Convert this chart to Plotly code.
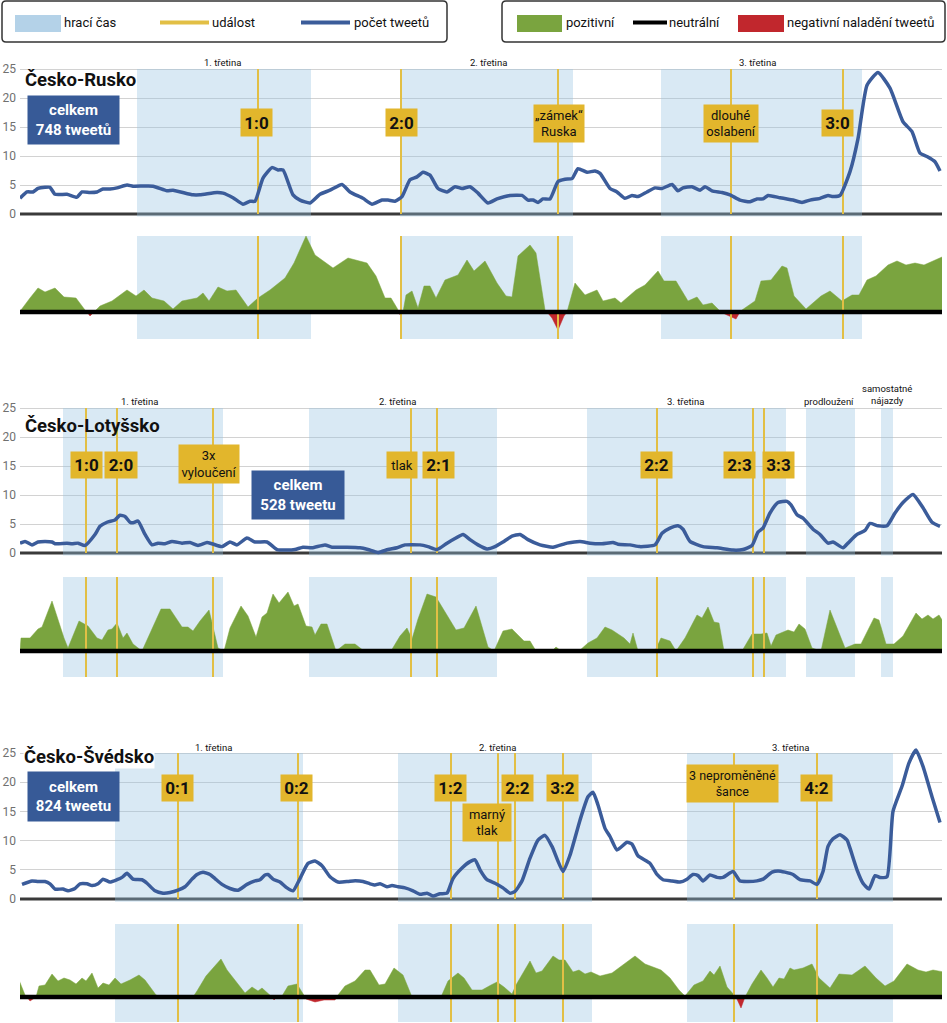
import plotly.graph_objects as go

# ================= DATA =================
# time is on a common match timeline (arbitrary units, same for all panels)

# ---- Česko-Rusko ----
rusko_hraci_cas = [(137, 311), (400, 573), (661, 862)]
rusko_udalosti = [258, 401, 558, 731, 843]
rusko_tweety = [
    (20, 2.7), (27, 3.8), (33, 3.8), (38, 4.4), (45, 4.6), (50, 4.6), (55, 3.4), (67, 3.4), (77, 2.9),
    (82, 3.8), (90, 3.7), (97, 3.8), (103, 4.3), (110, 4.3), (117, 4.5), (127, 5.0), (133, 4.8),
    (153, 4.8), (167, 4.0), (173, 4.1), (193, 3.3), (200, 3.3), (217, 3.7), (223, 3.6), (233, 2.8),
    (243, 1.7), (250, 2.2), (255, 2.2), (263, 6.2), (272, 8.0), (278, 7.6), (283, 7.6), (293, 3.3),
    (300, 2.4), (310, 1.9), (320, 3.4), (330, 4.1), (342, 5.1), (350, 3.8), (363, 2.7), (372, 1.7),
    (382, 2.4), (388, 2.4), (395, 2.2), (402, 3.0), (410, 5.9), (417, 6.4), (423, 7.2), (430, 6.7),
    (438, 4.4), (447, 3.8), (455, 4.7), (462, 4.4), (470, 4.7), (478, 3.6), (488, 1.9), (497, 2.6),
    (510, 3.2), (522, 3.2), (528, 2.4), (533, 2.4), (538, 2.0), (543, 2.6), (550, 2.6), (558, 5.6),
    (565, 6.0), (572, 6.1), (578, 7.8), (587, 7.2), (595, 7.4), (600, 7.0), (610, 4.4), (617, 3.8),
    (625, 2.7), (632, 3.2), (638, 3.0), (647, 3.8), (655, 4.5), (662, 4.4), (672, 5.1), (678, 4.0),
    (683, 4.5), (692, 4.7), (700, 4.1), (705, 4.7), (712, 4.0), (722, 3.7), (730, 3.3), (740, 2.4),
    (750, 2.1), (757, 2.6), (763, 2.6), (768, 3.2), (780, 2.8), (787, 2.6), (793, 2.4), (802, 2.0),
    (810, 2.4), (820, 2.7), (828, 3.2), (833, 3.0), (840, 3.2), (850, 7.3), (858, 13.0), (867, 22.2),
    (878, 24.4), (890, 21.7), (903, 15.9), (912, 14.2), (920, 10.5), (927, 9.9), (935, 9.0), (940, 7.4),
]
rusko_naladeni = [
    (20, 0), (21, 2), (30, 14), (38, 24), (45, 20), (55, 24), (64, 15), (76, 14), (85, 2), (87, 0), (90, -4),
    (94, 0), (100, 6), (112, 11), (127, 22), (136, 16), (144, 22), (152, 14), (164, 11), (173, 3),
    (182, 11), (197, 14), (203, 19), (209, 11), (218, 25), (227, 21), (236, 22), (248, 5), (258, 14),
    (270, 22), (285, 34), (294, 49), (306, 76), (315, 57), (333, 44), (348, 54), (367, 49), (376, 36),
    (385, 14), (391, 14), (397, 4), (399, 0), (400, -3), (403, 0), (406, 17), (412, 21), (418, 4),
    (424, 26), (430, 26), (436, 14), (445, 32), (458, 37), (467, 52), (474, 41), (485, 51), (497, 29),
    (506, 16), (512, 15), (518, 56), (530, 67), (536, 59), (545, 2), (547, 0), (552, -6), (558, -18),
    (564, -4), (567, 0), (575, 29), (585, 17), (597, 22), (603, 11), (615, 14), (621, 9), (636, 22),
    (645, 27), (658, 41), (664, 31), (676, 31), (688, 11), (697, 15), (703, 7), (712, 9), (721, 0),
    (727, -3), (736, -7), (740, 0), (742, 2), (755, 11), (761, 31), (771, 32), (782, 46), (787, 44),
    (794, 16), (806, 3), (821, 16), (830, 21), (842, 11), (852, 17), (859, 17), (867, 32), (876, 36),
    (888, 47), (897, 51), (906, 47), (915, 49), (924, 47), (933, 51), (942, 55),
]

# ---- Česko-Lotyšsko ----
lotyssko_hraci_cas = [(63, 223), (309, 497), (587, 786), (806, 855), (881, 893)]
lotyssko_udalosti = [86, 117, 213, 411, 437, 657, 753, 764]
lotyssko_tweety = [
    (20, 1.7), (25, 2.0), (32, 1.4), (38, 1.9), (45, 2.0), (52, 1.9), (55, 1.6), (67, 1.7), (72, 1.6),
    (78, 1.7), (85, 1.3), (95, 3.2), (100, 4.6), (107, 5.3), (115, 5.7), (120, 6.5), (125, 6.3),
    (130, 5.3), (133, 5.2), (138, 5.5), (145, 3.2), (152, 1.4), (158, 1.7), (165, 1.6), (172, 2.0),
    (182, 1.7), (190, 1.8), (198, 1.3), (207, 1.8), (212, 1.6), (222, 1.1), (230, 1.9), (237, 1.4),
    (247, 2.6), (255, 1.9), (267, 1.9), (277, 0.6), (287, 0.5), (295, 0.6), (303, 1.0), (312, 0.9),
    (325, 1.4), (332, 1.0), (347, 1.0), (360, 0.9), (368, 0.6), (378, 0.1), (388, 0.6), (397, 0.9),
    (405, 1.4), (420, 1.4), (428, 1.1), (437, 0.6), (447, 1.7), (455, 2.5), (463, 3.2), (470, 2.3),
    (478, 1.4), (487, 0.7), (495, 1.1), (503, 1.9), (512, 2.9), (520, 3.2), (528, 2.3), (540, 1.4),
    (553, 1.0), (567, 1.7), (580, 2.0), (590, 1.7), (602, 1.6), (613, 1.8), (618, 1.5), (630, 1.4),
    (640, 1.1), (655, 1.4), (662, 3.4), (670, 4.3), (678, 4.7), (683, 4.1), (690, 2.0), (703, 1.1),
    (717, 0.9), (733, 0.5), (743, 0.6), (752, 1.3), (758, 3.6), (763, 4.3), (770, 6.9), (778, 8.7),
    (787, 8.9), (791, 8.3), (797, 6.6), (803, 6.0), (813, 4.1), (820, 3.2), (828, 1.7), (833, 1.9),
    (843, 0.9), (848, 1.7), (857, 3.2), (865, 3.9), (870, 5.1), (878, 4.7), (887, 4.7), (895, 6.9),
    (903, 8.7), (913, 10.1), (923, 7.8), (932, 5.3), (940, 4.6),
]
lotyssko_naladeni = [
    (20, 0), (21, 13), (30, 13), (38, 22), (42, 24), (52, 50), (64, 13), (68, 3), (79, 30), (88, 25),
    (97, 13), (102, 11), (108, 21), (112, 22), (117, 28), (123, 13), (127, 18), (133, 7), (142, 0),
    (152, 22), (161, 42), (170, 42), (182, 24), (188, 24), (193, 20), (200, 30), (209, 41), (218, 3),
    (224, 0), (230, 23), (241, 45), (248, 35), (256, 14), (262, 34), (267, 38), (273, 57), (279, 48),
    (288, 59), (294, 45), (298, 47), (306, 25), (312, 24), (315, 16), (321, 27), (327, 27), (336, 0),
    (345, 7), (355, 7), (364, 0), (391, 0), (400, 15), (407, 23), (412, 12), (418, 32), (427, 57),
    (436, 54), (448, 35), (456, 21), (464, 23), (476, 45), (488, 4), (494, 0), (503, 20), (512, 22),
    (524, 10), (530, 10), (536, 0), (552, 0), (556, 4), (561, 0), (579, 0), (588, 8), (597, 13),
    (605, 24), (612, 21), (624, 13), (630, 7), (633, 18), (638, 0), (655, 0), (661, 13), (670, 10),
    (676, 0), (685, 13), (697, 36), (702, 33), (708, 44), (714, 29), (719, 28), (724, 0), (742, 0),
    (752, 17), (761, 17), (767, 18), (771, 5), (776, 16), (788, 21), (794, 19), (799, 27), (805, 22),
    (812, 3), (821, 0), (830, 41), (845, 3), (855, 7), (861, 7), (874, 33), (879, 31), (886, 7),
    (894, 7), (903, 15), (916, 38), (922, 32), (928, 36), (933, 32), (939, 36), (944, 28),
]

# ---- Česko-Švédsko ----
svedsko_hraci_cas = [(115, 303), (398, 592), (687, 893)]
svedsko_udalosti = [178, 298, 451, 498, 515, 563, 734, 817]
svedsko_tweety = [
    (22, 2.5), (32, 3.1), (38, 3.0), (45, 3.0), (50, 2.6), (55, 1.7), (63, 1.7), (68, 1.4), (75, 1.8),
    (80, 2.6), (87, 2.6), (92, 2.3), (98, 2.6), (103, 3.4), (110, 2.9), (117, 3.3), (122, 3.7),
    (127, 4.4), (133, 3.4), (142, 3.3), (147, 2.7), (155, 1.4), (163, 1.0), (170, 1.1), (178, 1.5),
    (185, 2.1), (192, 3.4), (197, 4.2), (203, 4.6), (210, 4.2), (215, 3.5), (222, 2.5), (230, 1.8),
    (238, 1.5), (247, 2.5), (255, 3.1), (260, 3.3), (265, 4.1), (268, 4.2), (273, 3.4), (280, 2.9),
    (287, 1.9), (293, 1.4), (300, 3.5), (308, 6.1), (315, 6.5), (322, 5.7), (330, 3.8), (338, 2.9),
    (348, 3.0), (353, 3.1), (363, 3.0), (370, 2.6), (375, 2.4), (380, 2.6), (387, 2.1), (392, 2.3),
    (398, 2.1), (405, 1.9), (413, 1.4), (420, 0.8), (427, 1.0), (433, 0.5), (440, 0.9), (447, 1.0),
    (453, 3.5), (462, 5.3), (470, 6.4), (475, 6.7), (480, 5.0), (487, 3.3), (495, 2.7), (503, 1.9),
    (510, 1.0), (515, 1.3), (522, 3.1), (530, 7.0), (538, 10.1), (545, 10.9), (552, 9.0), (563, 4.7),
    (570, 7.5), (580, 13.5), (588, 17.5), (593, 18.3), (598, 16.1), (605, 12.1), (610, 10.7),
    (617, 8.4), (627, 9.7), (632, 9.4), (638, 7.4), (650, 6.1), (657, 4.2), (663, 3.3), (672, 3.1),
    (680, 2.9), (687, 3.4), (693, 4.2), (698, 4.0), (703, 3.1), (710, 4.1), (717, 3.7), (723, 3.7),
    (733, 4.7), (740, 3.1), (747, 3.0), (757, 3.1), (763, 3.4), (772, 4.6), (778, 4.8), (785, 4.6),
    (793, 4.2), (800, 3.3), (810, 3.1), (817, 2.5), (823, 4.7), (828, 9.0), (833, 10.3), (840, 11.0),
    (847, 10.1), (850, 8.7), (857, 5.0), (863, 2.7), (869, 1.7), (875, 4.0), (880, 3.7), (887, 3.8),
    (893, 15.0), (902, 19.3), (909, 23.3), (916, 25.5), (923, 22.7), (932, 17.5), (940, 13.1),
]
svedsko_naladeni = [
    (19, 17), (25, 2), (27, 0), (30, -4), (36, 0), (39, 11), (45, 12), (52, 23), (58, 16), (64, 19),
    (70, 17), (76, 13), (82, 19), (86, 16), (92, 24), (98, 9), (103, 14), (109, 12), (115, 19),
    (121, 13), (130, 17), (139, 22), (145, 17), (156, 2), (161, 0), (193, 0), (197, 6), (206, 21),
    (215, 31), (221, 38), (227, 27), (239, 11), (245, 4), (252, 10), (258, 6), (262, 9), (270, 1),
    (272, 0), (274, -3), (277, 0), (282, 1), (288, 11), (297, 13), (303, 4), (305, 0), (306, -2),
    (315, -5), (324, -3), (335, -3), (337, 0), (338, 2), (345, 11), (355, 16), (365, 27), (370, 27),
    (379, 12), (385, 13), (394, 29), (403, 22), (412, 0), (441, 0), (448, 16), (458, 24), (464, 19),
    (472, 7), (482, 7), (491, 12), (497, 15), (504, 10), (512, 3), (516, 12), (522, 22), (530, 36),
    (536, 24), (542, 26), (553, 41), (559, 37), (565, 37), (573, 25), (579, 27), (585, 23), (591, 25),
    (600, 21), (612, 24), (624, 33), (635, 41), (645, 33), (661, 27), (670, 19), (679, 7), (685, 1),
    (694, 12), (703, 16), (710, 26), (714, 22), (720, 31), (727, 10), (736, 0), (741, -11), (745, 0),
    (752, 13), (761, 27), (767, 19), (773, 10), (779, 19), (784, 18), (790, 29), (794, 27), (803, 29),
    (812, 33), (819, 19), (830, 9), (839, 23), (852, 22), (865, 31), (876, 19), (885, 11), (894, 16),
    (907, 33), (918, 27), (926, 25), (933, 27), (944, 25),
]

# labels
y_ticks = [0, 5, 10, 15, 20, 25]
legend_labels = ["hrací čas", "událost", "počet tweetů", "pozitivní", "neutrální", "negativní naladění tweetů"]

# ================= STYLE / LAYOUT =================
W, H = 947, 1023
ML, MR = 20, 5
PW = W - ML - MR
FONT = "Roboto, Liberation Sans, Arial, sans-serif"
C_SHADE = "rgba(150,195,225,0.36)"
C_SWATCH = "#b4d2e8"
C_GOLD_LINE = "#e2bf45"
C_GOLD_BOX = "#e2b62c"
C_BLUE = "#3b5c9a"
C_BOX_BLUE = "#375a97"
C_GREEN = "#7aa43f"
C_RED = "#c1272d"
C_GRID = "#d2d2d2"


def py(p):  # pixel row -> paper y
    return 1 - p / H


def px(p):  # pixel column -> paper x
    return (p - ML) / PW


def dom(top, bottom):
    return [py(bottom), py(top)]


X_RANGE = [20, 942]

panels = [
    dict(tw=rusko_tweety, se=rusko_naladeni, hc=rusko_hraci_cas, ev=rusko_udalosti,
         zero=214, k=5.8, srange=[-27, 76], sdom=(236, 339)),
    dict(tw=lotyssko_tweety, se=lotyssko_naladeni, hc=lotyssko_hraci_cas, ev=lotyssko_udalosti,
         zero=553, k=5.8, srange=[-26, 74], sdom=(577, 677)),
    dict(tw=svedsko_tweety, se=svedsko_naladeni, hc=svedsko_hraci_cas, ev=svedsko_udalosti,
         zero=899, k=5.84, srange=[-25, 73], sdom=(924, 1022)),
]

fig = go.Figure()
layout_axes = {}
TOP_RANGE = [-1, 26]

for i, p in enumerate(panels):
    ya_top = f"y{2 * i + 1}" if i > 0 else "y"
    ya_sen = f"y{2 * i + 2}"
    top_name = "yaxis" if i == 0 else f"yaxis{2 * i + 1}"
    sen_name = f"yaxis{2 * i + 2}"
    t_top = p["zero"] - TOP_RANGE[1] * p["k"]
    t_bot = p["zero"] - TOP_RANGE[0] * p["k"]
    layout_axes[top_name] = dict(
        domain=dom(t_top, t_bot), range=TOP_RANGE, anchor="x", tickvals=y_ticks,
        ticktext=[str(v) for v in y_ticks], showgrid=True, gridcolor=C_GRID, gridwidth=1,
        zeroline=False, showline=False, ticks="", ticklabelstandoff=3,
        tickfont=dict(family=FONT, size=12, color="#707070"),
        automargin=False, fixedrange=True,
    )
    layout_axes[sen_name] = dict(domain=dom(*p["sdom"]), range=p["srange"], anchor="x",
                                 visible=False, fixedrange=True)

    # --- top panel: baseline ---
    fig.add_trace(go.Scatter(x=X_RANGE, y=[0, 0], mode="lines", line=dict(color="#3a3a3a", width=3),
                             yaxis=ya_top, hoverinfo="skip", showlegend=False))
    sx, sy = [], []
    for a, b in p["hc"]:
        sx += [a, a, b, b, a, None]
        sy += [-0.45, 25, 25, -0.45, -0.45, None]
    fig.add_trace(go.Scatter(x=sx, y=sy, mode="lines", fill="toself", fillcolor=C_SHADE,
                             line=dict(width=0), yaxis=ya_top, hoverinfo="skip", showlegend=False))
    ex, ey = [], []
    for e in p["ev"]:
        ex += [e, e, None]
        ey += [0, 25, None]
    fig.add_trace(go.Scatter(x=ex, y=ey, mode="lines", line=dict(color=C_GOLD_LINE, width=2),
                             yaxis=ya_top, hoverinfo="skip", showlegend=False))
    fig.add_trace(go.Scatter(x=[a for a, _ in p["tw"]], y=[b for _, b in p["tw"]], mode="lines",
                             line=dict(color=C_BLUE, width=3.5, shape="spline", smoothing=0.5),
                             yaxis=ya_top, hoverinfo="skip", showlegend=False))

    # --- sentiment panel ---
    lo, hi = p["srange"]
    sx, sy = [], []
    for a, b in p["hc"]:
        sx += [a, a, b, b, a, None]
        sy += [lo, hi, hi, lo, lo, None]
    fig.add_trace(go.Scatter(x=sx, y=sy, mode="lines", fill="toself", fillcolor=C_SHADE,
                             line=dict(width=0), yaxis=ya_sen, hoverinfo="skip", showlegend=False))
    st = [a for a, _ in p["se"]]
    sv = [b for _, b in p["se"]]
    fig.add_trace(go.Scatter(x=st, y=[max(v, 0) for v in sv], mode="lines", fill="tozeroy",
                             fillcolor=C_GREEN, line=dict(width=0.5, color=C_GREEN),
                             yaxis=ya_sen, hoverinfo="skip", showlegend=False))
    fig.add_trace(go.Scatter(x=st, y=[min(v, 0) for v in sv], mode="lines", fill="tozeroy",
                             fillcolor=C_RED, line=dict(width=0.5, color=C_RED),
                             yaxis=ya_sen, hoverinfo="skip", showlegend=False))
    ex, ey = [], []
    for e in p["ev"]:
        ex += [e, e, None]
        ey += [lo, hi, None]
    fig.add_trace(go.Scatter(x=ex, y=ey, mode="lines", line=dict(color=C_GOLD_LINE, width=2),
                             yaxis=ya_sen, hoverinfo="skip", showlegend=False))
    fig.add_trace(go.Scatter(x=X_RANGE, y=[0, 0], mode="lines", line=dict(color="#000000", width=4.5),
                             yaxis=ya_sen, hoverinfo="skip", showlegend=False))

annotations = []
shapes = []


def box(xc, yc, text, w, h, bg=C_GOLD_BOX, color="#111111", size=17, bold=True):
    t = f"<b>{text}</b>" if bold else text
    annotations.append(dict(x=xc, y=py(yc), xref="x", yref="paper", text=t, showarrow=False,
                            xanchor="center", yanchor="middle", width=w, height=h, bgcolor=bg,
                            borderpad=0, align="center", valign="middle",
                            font=dict(family=FONT, size=size, color=color)))


def label(x, yc, text, size=9.5, color="#111111", xanchor="center", bold=False, bg=None):
    t = f"<b>{text}</b>" if bold else text
    d = dict(x=x, y=py(yc), xref="x", yref="paper", text=t, showarrow=False, xanchor=xanchor,
             yanchor="middle", font=dict(family=FONT, size=size, color=color), align="center")
    if bg:
        d["bgcolor"] = bg
        d["borderpad"] = 0
    annotations.append(d)


SMALL = 13

# --- panel 1 ---
label(23, 80, "Česko-Rusko", size=18.5, xanchor="left", bold=True)
box(73.5, 120, "celkem<br>748 tweetů", 91, 48, bg=C_BOX_BLUE, color="white", size=15)
for t, x in [("1. třetina", 222), ("2. třetina", 488), ("3. třetina", 757)]:
    label(x, 63, t)
box(256.5, 122, "1:0", 31, 27)
box(401.5, 122, "2:0", 31, 27)
box(558.5, 123.5, "„zámek“<br>Ruska", 50, 37, size=SMALL, bold=False)
box(731, 123.5, "dlouhé<br>oslabení", 54, 37, size=SMALL, bold=False)
box(837.5, 122.5, "3:0", 31, 26)

# --- panel 2 ---
label(23, 426, "Česko-Lotyšsko", size=18.5, xanchor="left", bold=True)
for t, x in [("1. třetina", 139), ("2. třetina", 397), ("3. třetina", 685), ("prodloužení", 829)]:
    label(x, 401, t)
label(887, 394, "samostatné<br>nájazdy", size=9.5)
box(86.5, 464.5, "1:0", 31, 26)
box(121, 464.5, "2:0", 32, 26)
box(209, 464, "3x<br>vyloučení", 60, 38, size=SMALL, bold=False)
box(298, 495, "celkem<br>528 tweetu", 92, 48, bg=C_BOX_BLUE, color="white", size=15)
box(402, 464.5, "tlak", 30, 26, size=SMALL, bold=False)
box(438.5, 464.5, "2:1", 31, 26)
box(656.5, 464.5, "2:2", 31, 26)
box(739.5, 464.5, "2:3", 31, 26)
box(778.5, 464.5, "3:3", 31, 26)

# --- panel 3 ---
label(23, 757, "Česko-Švédsko", size=18.5, xanchor="left", bold=True, bg="white")
for t, x in [("1. třetina", 213), ("2. třetina", 497), ("3. třetina", 790)]:
    label(x, 747, t)
box(73.5, 796.5, "celkem<br>824 tweetu", 91, 49, bg=C_BOX_BLUE, color="white", size=15)
box(177.5, 788, "0:1", 31, 26)
box(296.5, 788, "0:2", 31, 26)
box(450.5, 788, "1:2", 31, 26)
box(487, 822.5, "marný<br>tlak", 48, 37, size=SMALL, bold=False)
box(517.5, 788, "2:2", 31, 26)
box(562.5, 788, "3:2", 31, 26)
box(732.5, 783.5, "3 neproměněné<br>šance", 91, 37, size=12.5, bold=False)
box(816.5, 788, "4:2", 31, 26)


# --- legend ---
def rounded(x0, y0, x1, y1, r=4):
    X0, X1 = px(x0), px(x1)
    Y0, Y1 = py(y0), py(y1)
    rx, ry = r / PW, r / H
    return (f"M {X0 + rx},{Y0} L {X1 - rx},{Y0} Q {X1},{Y0} {X1},{Y0 - ry} "
            f"L {X1},{Y1 + ry} Q {X1},{Y1} {X1 - rx},{Y1} L {X0 + rx},{Y1} "
            f"Q {X0},{Y1} {X0},{Y1 + ry} L {X0},{Y0 - ry} Q {X0},{Y0} {X0 + rx},{Y0} Z")


for x0, x1 in [(2, 447), (502, 945)]:
    shapes.append(dict(type="path", path=rounded(x0, 1, x1, 42), xref="paper", yref="paper",
                       line=dict(color="#333333", width=1.5), fillcolor="white", layer="above"))


def swatch(x0, x1, color):
    shapes.append(dict(type="rect", x0=px(x0), x1=px(x1), y0=py(32), y1=py(15), xref="paper",
                       yref="paper", fillcolor=color, line=dict(width=0), layer="above"))


def legline(x0, x1, color):
    shapes.append(dict(type="line", x0=px(x0), x1=px(x1), y0=py(22.5), y1=py(22.5), xref="paper",
                       yref="paper", line=dict(color=color, width=4), layer="above"))


def legtext(x, text):
    annotations.append(dict(x=px(x), y=py(23), xref="paper", yref="paper", text=text, showarrow=False,
                            xanchor="left", yanchor="middle",
                            font=dict(family=FONT, size=13, color="#111111")))


swatch(15, 61, C_SWATCH)
legtext(62, legend_labels[0])
legline(160, 209, C_GOLD_LINE)
legtext(210, legend_labels[1])
legline(301, 350, C_BLUE)
legtext(352, legend_labels[2])
swatch(517, 562, C_GREEN)
legtext(564, legend_labels[3])
legline(633, 667, "#000000")
legtext(667, legend_labels[4])
swatch(738, 784, C_RED)
legtext(785, legend_labels[5])

fig.update_layout(
    width=W, height=H, margin=dict(l=ML, r=MR, t=0, b=0),
    paper_bgcolor="white", plot_bgcolor="white",
    xaxis=dict(range=X_RANGE, visible=False, fixedrange=True),
    annotations=annotations, shapes=shapes, showlegend=False,
    font=dict(family=FONT),
    **layout_axes,
)

# remove the browser's default 8px page margin so the figure sits at the window origin
fig.write_html("out.html", config={"displayModeBar": False},
               post_script="document.body.style.margin='0px';")
